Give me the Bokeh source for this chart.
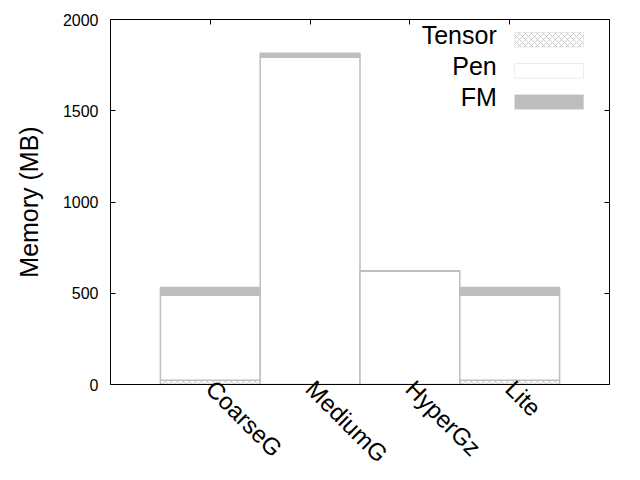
import math
from bokeh.plotting import figure
from bokeh.models import (Range1d, LinearAxis, FixedTicker, Label, BoxAnnotation,
                          CustomLabelingPolicy)
from bokeh.embed import file_html
from bokeh.resources import INLINE

categories = ["CoarseG", "MediumG", "HyperGz", "Lite"]
tensor = [23, 0, 0, 23]
pen = [466, 1793, 620, 466]
fm = [42, 22, 3, 42]
series_names = ["Tensor", "Pen", "FM"]
y_ticks = [0, 500, 1000, 1500, 2000]

FONT = "Liberation Sans"
GRAY = "#bebebe"

xs = list(range(1, len(categories) + 1))
p = figure(width=640, height=480, output_backend="svg", toolbar_location=None,
           x_range=Range1d(0, len(categories) + 1), y_range=Range1d(0, 2000),
           min_border_left=110, min_border_right=31, min_border_top=19, min_border_bottom=96)
p.xgrid.visible = False
p.ygrid.visible = False
p.outline_line_color = "black"
p.outline_line_width = 1
p.background_fill_color = "white"
p.border_fill_color = "white"

b0 = [0] * len(xs)
b1 = [t for t in tensor]
b2 = [t + q for t, q in zip(tensor, pen)]
b3 = [a + f for a, f in zip(b2, fm)]

p.vbar(x=xs, bottom=b0, top=b1, width=1, fill_color="white", line_color=GRAY, line_width=1.5,
       hatch_pattern="diagonal_cross", hatch_color=GRAY, hatch_scale=6, hatch_weight=0.8)
p.vbar(x=xs, bottom=b1, top=b2, width=1, fill_color="white", line_color=GRAY, line_width=1.5)
p.vbar(x=xs, bottom=b2, top=b3, width=1, fill_color=GRAY, line_color=GRAY, line_width=1.5)

NO_LABELS = "for (let i = 0; i < indices.size; i++) { indices.unset(i) }\nreturn indices"

# bottom axis with rotated category labels
xax = p.xaxis[0]
xax.ticker = FixedTicker(ticks=xs)
xax.major_label_overrides = {x: c for x, c in zip(xs, categories)}
xax.major_label_orientation = -math.pi / 4
xax.major_label_text_font = FONT
xax.major_label_text_font_size = "24px"
xax.major_label_text_color = "black"
xax.major_tick_in = 0
xax.major_tick_out = 0
xax.minor_tick_line_color = None
xax.axis_line_color = "black"
xax.major_label_standoff = 0

yax = p.yaxis[0]
yax.ticker = FixedTicker(ticks=y_ticks)
yax.major_label_text_font = FONT
yax.major_label_text_font_size = "16px"
yax.major_label_text_color = "black"
yax.major_tick_in = 5
yax.major_tick_out = 0
yax.minor_tick_line_color = None
yax.axis_line_color = "black"
yax.major_label_standoff = 12
yax.axis_label = "Memory (MB)"
yax.axis_label_text_font = FONT
yax.axis_label_text_font_size = "25px"
yax.axis_label_text_font_style = "normal"
yax.axis_label_text_color = "black"
yax.axis_label_standoff = 17

top_ax = LinearAxis(ticker=FixedTicker(ticks=xs), major_label_text_font_size="1px",
                    major_label_policy=CustomLabelingPolicy(code=NO_LABELS),
                    major_tick_in=5, major_tick_out=0, minor_tick_line_color=None,
                    axis_line_color="black", major_label_standoff=0)
right_ax = LinearAxis(ticker=FixedTicker(ticks=y_ticks), major_label_text_font_size="1px",
                      major_label_policy=CustomLabelingPolicy(code=NO_LABELS),
                      major_tick_in=5, major_tick_out=0, minor_tick_line_color=None,
                      axis_line_color="black", major_label_standoff=0)
p.add_layout(top_ax, "above")
p.add_layout(right_ax, "right")

# legend (label on the left, swatch on the right)
leg_y = [1916, 1746, 1578]
sw_half = 40
for name, yb in zip(series_names, leg_y):
    p.add_layout(Label(x=3.87, y=yb, text=name, text_align="right", text_baseline="alphabetic",
                       text_font=FONT, text_font_size="25px", text_color="black"))
yc = [1889, 1719, 1548]
p.add_layout(BoxAnnotation(left=4.05, right=4.74, bottom=yc[0] - sw_half, top=yc[0] + sw_half,
                           fill_color="white", fill_alpha=1, line_color=GRAY, line_width=1,
                           hatch_pattern="diagonal_cross", hatch_color=GRAY, hatch_scale=6,
                           hatch_weight=0.8))
p.add_layout(BoxAnnotation(left=4.05, right=4.74, bottom=yc[1] - sw_half, top=yc[1] + sw_half,
                           fill_color="white", fill_alpha=1, line_color=GRAY, line_width=1))
p.add_layout(BoxAnnotation(left=4.05, right=4.74, bottom=yc[2] - sw_half, top=yc[2] + sw_half,
                           fill_color=GRAY, fill_alpha=1, line_color=GRAY, line_width=1))

open("out.html", "w").write(file_html(p, INLINE))
